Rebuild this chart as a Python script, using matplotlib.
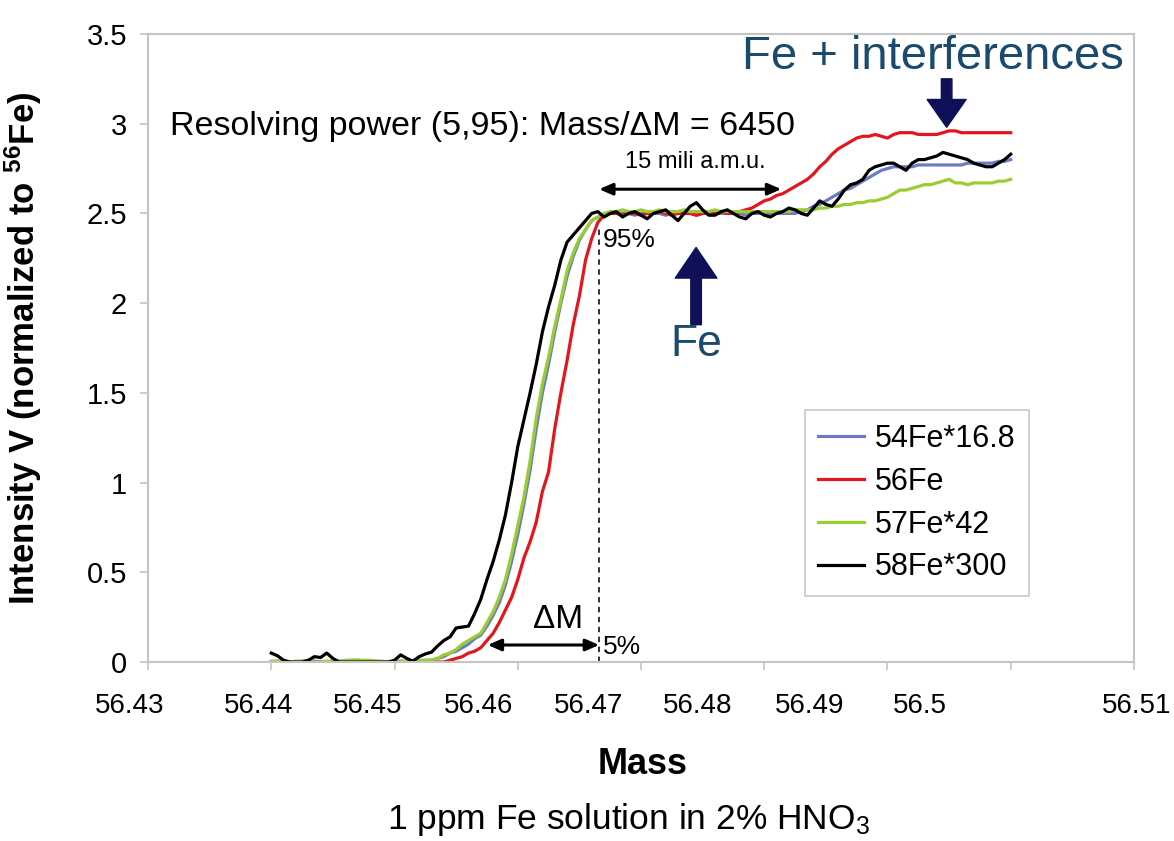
import numpy as np
import matplotlib
matplotlib.use("Agg")
import matplotlib.pyplot as plt
from matplotlib.patches import FancyArrowPatch

plt.rcParams['font.family'] = ['Liberation Sans', 'DejaVu Sans']
plt.rcParams['mathtext.fontset'] = 'custom'
plt.rcParams['mathtext.rm'] = 'Liberation Sans'
plt.rcParams['mathtext.bf'] = 'Liberation Sans:bold'
plt.rcParams['mathtext.it'] = 'Liberation Sans:italic'

# ---------------- data ----------------
mass_start = 56.44
mass_step = 0.0005
n_points = 121
mass = np.round(mass_start + mass_step * np.arange(n_points), 4)

fe54 = [0.0, 0.005, 0.005, 0.0, 0.0, 0.005, 0.005, 0.005, 0.0, 0.0,
        0.005, 0.005, 0.005, 0.01, 0.01, 0.005, 0.005, 0.005, 0.0, 0.0,
        0.005, 0.005, 0.0, 0.005, 0.005, 0.01, 0.01, 0.02, 0.03, 0.05,
        0.06, 0.08, 0.1, 0.13, 0.15, 0.2, 0.26, 0.33, 0.43, 0.56,
        0.71, 0.88, 1.07, 1.3, 1.5, 1.66, 1.84, 2.0, 2.15, 2.26,
        2.35, 2.41, 2.46, 2.48, 2.49, 2.5, 2.5, 2.5, 2.5, 2.49,
        2.5, 2.5, 2.5, 2.5, 2.49, 2.5, 2.5, 2.5, 2.5, 2.49,
        2.5, 2.5, 2.5, 2.5, 2.5, 2.5, 2.5, 2.49, 2.5, 2.5,
        2.5, 2.5, 2.5, 2.5, 2.5, 2.5, 2.51, 2.52, 2.54, 2.55,
        2.57, 2.59, 2.61, 2.63, 2.64, 2.66, 2.68, 2.7, 2.72, 2.74,
        2.75, 2.76, 2.76, 2.76, 2.76, 2.77, 2.77, 2.77, 2.77, 2.77,
        2.77, 2.77, 2.77, 2.78, 2.78, 2.78, 2.78, 2.78, 2.79, 2.79,
        2.8]

fe56 = [0.0, 0.0, 0.0, 0.0, 0.0, 0.0, 0.0, 0.0, 0.0, 0.0,
        0.0, 0.0, 0.0, 0.0, 0.0, 0.0, 0.0, 0.0, 0.0, 0.0,
        0.0, 0.0, 0.0, 0.0, 0.0, 0.0, 0.0, 0.0, 0.0, 0.01,
        0.02, 0.03, 0.05, 0.06, 0.08, 0.12, 0.16, 0.22, 0.29, 0.36,
        0.46, 0.58, 0.67, 0.78, 0.95, 1.06, 1.3, 1.5, 1.68, 1.88,
        2.04, 2.24, 2.36, 2.45, 2.49, 2.5, 2.5, 2.49, 2.5, 2.5,
        2.49, 2.5, 2.5, 2.51, 2.5, 2.49, 2.5, 2.5, 2.5, 2.49,
        2.5, 2.5, 2.5, 2.51, 2.5, 2.5, 2.51, 2.52, 2.53, 2.55,
        2.57, 2.58, 2.6, 2.61, 2.63, 2.65, 2.67, 2.69, 2.72, 2.76,
        2.79, 2.83, 2.86, 2.88, 2.9, 2.92, 2.93, 2.93, 2.94, 2.93,
        2.92, 2.94, 2.95, 2.95, 2.95, 2.94, 2.94, 2.94, 2.94, 2.95,
        2.96, 2.96, 2.95, 2.95, 2.95, 2.95, 2.95, 2.95, 2.95, 2.95,
        2.95]

fe57 = [0.005, 0.005, 0.0, 0.0, 0.005, 0.005, 0.005, 0.0, 0.0, 0.005,
        0.005, 0.005, 0.01, 0.01, 0.01, 0.01, 0.01, 0.005, 0.005, 0.0,
        0.0, 0.005, 0.005, 0.005, 0.01, 0.01, 0.01, 0.02, 0.04, 0.05,
        0.07, 0.1, 0.12, 0.14, 0.16, 0.22, 0.28, 0.36, 0.46, 0.6,
        0.76, 0.92, 1.12, 1.36, 1.55, 1.7, 1.87, 2.02, 2.18, 2.28,
        2.36, 2.41, 2.46, 2.48, 2.5, 2.51, 2.51, 2.52, 2.51, 2.51,
        2.52, 2.51, 2.51, 2.52, 2.51, 2.51, 2.51, 2.52, 2.51, 2.51,
        2.51, 2.51, 2.52, 2.51, 2.51, 2.51, 2.51, 2.51, 2.51, 2.51,
        2.51, 2.51, 2.51, 2.51, 2.51, 2.52, 2.52, 2.52, 2.52, 2.53,
        2.53, 2.54, 2.54, 2.55, 2.55, 2.56, 2.56, 2.57, 2.57, 2.58,
        2.59, 2.61, 2.63, 2.63, 2.64, 2.65, 2.66, 2.66, 2.67, 2.68,
        2.69, 2.67, 2.67, 2.66, 2.67, 2.67, 2.67, 2.67, 2.68, 2.68,
        2.69]

fe58 = [0.05, 0.035, 0.01, 0.0, 0.0, 0.0, 0.01, 0.03, 0.025, 0.05,
        0.02, 0.0, 0.0, 0.0, 0.0, 0.0, 0.0, 0.0, 0.0, 0.0,
        0.01, 0.04, 0.02, 0.005, 0.03, 0.045, 0.055, 0.09, 0.12, 0.14,
        0.19, 0.195, 0.2, 0.27, 0.35, 0.46, 0.56, 0.68, 0.82, 1.0,
        1.2, 1.35, 1.5, 1.66, 1.84, 1.98, 2.1, 2.24, 2.34, 2.38,
        2.42, 2.46, 2.5, 2.51, 2.48, 2.5, 2.51, 2.48, 2.5, 2.51,
        2.49, 2.47, 2.5, 2.51, 2.52, 2.49, 2.46, 2.5, 2.54, 2.56,
        2.52, 2.49, 2.49, 2.51, 2.52, 2.5, 2.48, 2.47, 2.5, 2.51,
        2.49, 2.48, 2.5, 2.51, 2.53, 2.52, 2.5, 2.49, 2.53, 2.57,
        2.55, 2.54, 2.58, 2.63, 2.66, 2.67, 2.69, 2.74, 2.76, 2.77,
        2.78, 2.78, 2.76, 2.74, 2.78, 2.8, 2.8, 2.81, 2.82, 2.84,
        2.83, 2.82, 2.81, 2.8, 2.78, 2.77, 2.76, 2.76, 2.78, 2.8,
        2.83]

series_names = ["54Fe*16.8", "56Fe", "57Fe*42", "58Fe*300"]
series_values = [fe54, fe56, fe57, fe58]
series_colors = ["#6B7CC4", "#E3161D", "#9ACD32", "#000000"]

x_ticks = [56.43, 56.44, 56.45, 56.46, 56.47, 56.48, 56.49, 56.50, 56.51]
x_tick_labels = ["56.43", "56.44", "56.45", "56.46", "56.47", "56.48", "56.49", "56.5", "56.51"]
# positions where the reference prints the tick labels (they are offset from the ticks)
x_label_pos = [56.42854, 56.43894, 56.44780, 56.45683, 56.46577, 56.47463, 56.48366, 56.49260, 56.51020]
y_ticks = [0, 0.5, 1, 1.5, 2, 2.5, 3, 3.5]
y_tick_labels = ["0", "0.5", "1", "1.5", "2", "2.5", "3", "3.5"]

# annotation anchors (data coordinates)
mass_95 = 56.4666          # 5 % / 95 % position
mass_5 = 56.45756          # 5 % start of ΔM
mass_15_end = 56.48138     # end of 15 mili a.m.u. span
fe_arrow_mass = 56.47447
interf_arrow_mass = 56.4948

# ---------------- figure ----------------
fig = plt.figure(figsize=(11.74, 8.41), dpi=100)
ax = fig.add_axes([0.1261, 0.2128, 0.8398, 0.7468])

for name, vals, col in zip(series_names, series_values, series_colors):
    ax.plot(mass, vals, color=col, lw=2.3, label=name, solid_joinstyle='round')

ax.set_xlim(56.43, 56.51)
ax.set_ylim(0, 3.5)
ax.set_xticks(x_ticks)
ax.set_xticklabels([])
ax.set_yticks(y_ticks)
ax.set_yticklabels(y_tick_labels, fontsize=21)

for sp in ax.spines.values():
    sp.set_color("#C4C4C4")
    sp.set_linewidth(1.5)
ax.tick_params(axis='both', direction='out', length=6, width=1.2, color="#C4C4C4")
ax.tick_params(axis='y', pad=9)

for pos, lab in zip(x_label_pos, x_tick_labels):
    ax.text(pos, -0.07, lab, transform=ax.get_xaxis_transform(), ha='center', va='center',
            fontsize=20, clip_on=False)

ax.set_ylabel(r"Intensity V (normalized to $^{\mathbf{56}}$Fe)", fontsize=25, fontweight='bold')
ax.yaxis.set_label_coords(-0.106, 0.5)

fig.text(0.5477, 0.0904, "Mass", ha='center', va='center', fontsize=26, fontweight='bold')
fig.text(0.535, 0.026, r"1 ppm Fe solution in 2% HNO$_3$", ha='center', va='center', fontsize=25.5)

# annotations
ax.text(56.4318, 2.987, "Resolving power (5,95): Mass/\u0394M = 6450", ha='left', va='center', fontsize=24.5)
ax.plot([mass_95, mass_95], [0, 2.42], color="#222222", lw=1.3, ls=(0, (3, 2.5)))
ax.annotate("", xy=(mass_5, 0.095), xytext=(mass_95, 0.095),
            arrowprops=dict(arrowstyle='<|-|>,head_length=0.8,head_width=0.35', color='black', lw=2.2,
                            shrinkA=0, shrinkB=0))
ax.text(56.46327, 0.235, "\u0394M", ha='center', va='center', fontsize=24)
ax.text(56.4669, 0.084, "5%", ha='left', va='center', fontsize=19)
ax.text(56.4669, 2.35, "95%", ha='left', va='center', fontsize=19)
ax.annotate("", xy=(mass_95, 2.635), xytext=(mass_15_end, 2.635),
            arrowprops=dict(arrowstyle='<|-|>,head_length=0.8,head_width=0.35', color='black', lw=2.2,
                            shrinkA=0, shrinkB=0))
ax.text(56.47437, 2.786, "15 mili a.m.u.", ha='center', va='center', fontsize=17)

navy = "#0F1058"
teal = "#1A4A6E"
ax.add_patch(FancyArrowPatch((fe_arrow_mass, 1.88), (fe_arrow_mass, 2.31),
                             arrowstyle='simple,head_length=1.1,head_width=1.5,tail_width=0.38',
                             mutation_scale=20, color=navy, shrinkA=0, shrinkB=0))
ax.text(fe_arrow_mass, 1.77, "Fe", ha='center', va='center', fontsize=32, color=teal)
ax.add_patch(FancyArrowPatch((interf_arrow_mass, 3.25), (interf_arrow_mass, 2.98),
                             arrowstyle='simple,head_length=1.0,head_width=1.4,tail_width=0.38',
                             mutation_scale=20, color=navy, shrinkA=0, shrinkB=0, clip_on=False))
ax.text(56.49366, 3.372, "Fe + interferences", ha='center', va='center', fontsize=34, color=teal)

leg = ax.legend(loc='upper left', bbox_to_anchor=(0.666, 0.401), fontsize=22, frameon=True,
                fancybox=False, edgecolor="#BBBBBB", handlelength=1.5, handletextpad=0.35,
                labelspacing=0.42, borderpad=0.45, borderaxespad=0)
leg.get_frame().set_linewidth(1.2)
for h in leg.get_lines():
    h.set_linewidth(2.3)

fig.savefig("out.png", dpi=100)
